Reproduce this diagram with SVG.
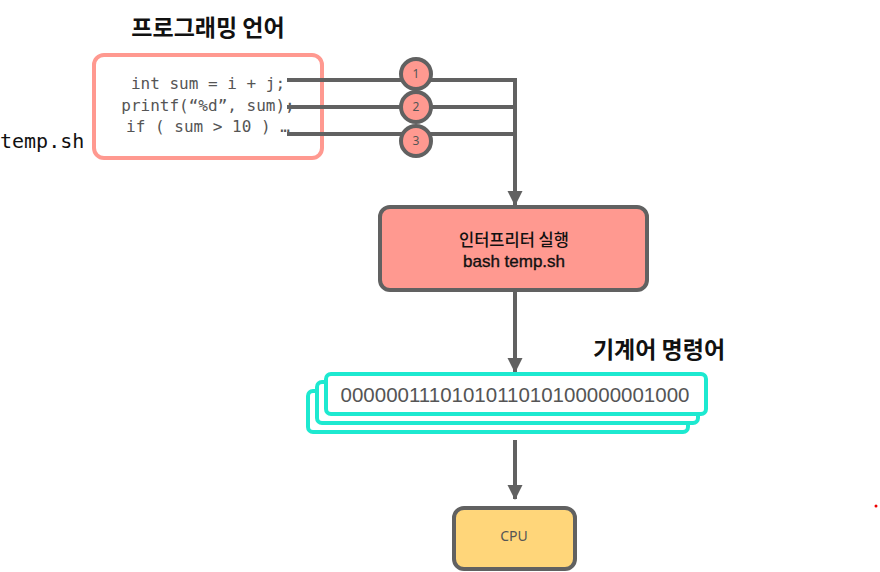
<svg xmlns="http://www.w3.org/2000/svg" width="880" height="572" viewBox="0 0 880 572">
<style>
.title{font-family:"Noto Sans CJK KR","Noto Sans",sans-serif;font-weight:bold;font-size:23px;fill:#111}
.code{font-family:"DejaVu Sans Mono",monospace;font-size:16px;fill:#555;text-anchor:middle}
.conn{stroke:#616161;stroke-width:4;fill:none}
.num{font-family:"Noto Sans",sans-serif;font-size:12px;fill:#555;text-anchor:middle}
.dark{stroke:#616161;stroke-width:4}
.bin{fill:#fff;stroke:#1DE9D0;stroke-width:4}
.lbl{font-family:"Noto Sans CJK KR","Noto Sans",sans-serif;font-size:16.5px;font-weight:500;fill:#111;text-anchor:middle}
.lbl2{font-family:"Liberation Sans",Arial,sans-serif;font-size:17px;fill:#111;stroke:#111;stroke-width:0.35;text-anchor:middle}
</style>
<defs>
<marker id="ah" markerWidth="16" markerHeight="16" refX="14" refY="7.5" orient="auto" markerUnits="userSpaceOnUse">
<path d="M0,0 L15,7.5 L0,15 Z" fill="#616161"/>
</marker>
</defs>
<rect x="0" y="0" width="880" height="572" fill="#fff"/>

<g id="code-box">
<text class="title" x="208" y="36" text-anchor="middle">프로그래밍 언어</text>
<rect x="94" y="55" width="228" height="103" rx="10" fill="#fff" stroke="#FF9990" stroke-width="4"/>
<text class="code" x="208" y="89">int sum = i + j;</text>
<text class="code" x="208" y="111">printf(“%d”, sum);</text>
<text class="code" x="208" y="132">if ( sum &gt; 10 ) …</text>
</g>

<g id="temp-label">
<text x="0" y="148" font-family="DejaVu Sans Mono,monospace" font-size="20" fill="#111">temp.sh</text>
</g>

<g id="connectors">
<path class="conn" d="M287,80 H515 M287,107 H515 M287,134 H515"/>
<path class="conn" d="M515,78 V205" marker-end="url(#ah)"/>
<path class="conn" d="M515,291 V372" marker-end="url(#ah)"/>
<path class="conn" d="M515,440 V499" marker-end="url(#ah)"/>
</g>

<g id="step-1">
<circle cx="416" cy="74" r="15" fill="#FF9990" class="dark"/>
<text class="num" x="416" y="78">1</text>
</g>
<g id="step-2">
<circle cx="416" cy="107" r="15" fill="#FF9990" class="dark"/>
<text class="num" x="416" y="111">2</text>
</g>
<g id="step-3">
<circle cx="416" cy="141" r="15" fill="#FF9990" class="dark"/>
<text class="num" x="416" y="145">3</text>
</g>

<g id="interpreter">
<rect x="380" y="207" width="267" height="83" rx="10" fill="#FF9990" class="dark"/>
<text class="lbl" x="514" y="246">인터프리터 실행</text>
<text class="lbl2" x="514" y="267">bash temp.sh</text>
</g>

<g id="machine-code">
<text class="title" x="659" y="358" text-anchor="middle">기계어 명령어</text>
<rect class="bin" x="308" y="391" width="380" height="41" rx="5"/>
<rect class="bin" x="317" y="382" width="381" height="41" rx="5"/>
<rect class="bin" x="326" y="374" width="380" height="40" rx="5"/>
<text x="515" y="402" text-anchor="middle" font-family="Liberation Sans,Arial,sans-serif" font-size="20.5" fill="#555">0000001110101011010100000001000</text>
</g>

<g id="cpu">
<rect x="454" y="508" width="121" height="61" rx="10" fill="#FFD67A" class="dark"/>
<text x="514" y="541" text-anchor="middle" font-family="Noto Sans,sans-serif" font-size="14" fill="#555">CPU</text>
</g>

<circle cx="876" cy="506" r="1.5" fill="#e00"/>
</svg>
